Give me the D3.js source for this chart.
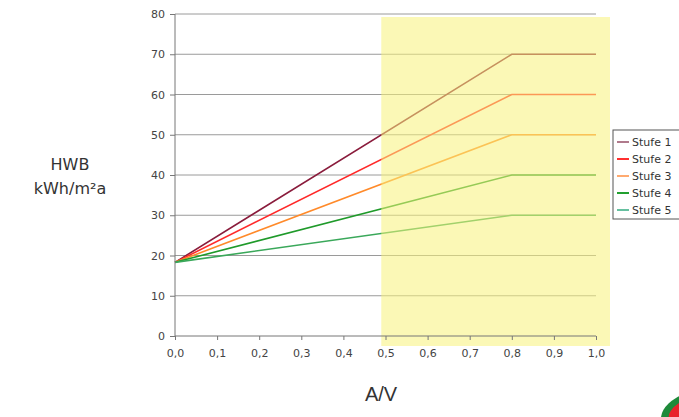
<!DOCTYPE html>
<html><head><meta charset="utf-8">
<script src="https://cdn.jsdelivr.net/npm/d3@7"></script>
<style>body{margin:0;background:#fff;}svg{display:block;}</style>
</head><body>
<svg id="c" width="679" height="417"></svg>
<script>
const xPoints = [0.0, 0.8, 1.0];
const seriesNames = ["Stufe 1", "Stufe 2", "Stufe 3", "Stufe 4", "Stufe 5"];
const stufe1 = [18.3, 70, 70];
const stufe2 = [18.3, 60, 60];
const stufe3 = [18.3, 50, 50];
const stufe4 = [18.3, 40, 40];
const stufe5 = [18.3, 30, 30];
const seriesValues = [stufe1, stufe2, stufe3, stufe4, stufe5];
const seriesColors = ["#8a1c3c", "#ff2a2a", "#ff8a2a", "#1f9a2a", "#3aa85a"];
const legendColors = ["#b07a8c", "#ff3030", "#ffaa70", "#22a030", "#66c0a0"];
const xTicks = [0, 0.1, 0.2, 0.3, 0.4, 0.5, 0.6, 0.7, 0.8, 0.9, 1.0];
const yTicks = [0, 10, 20, 30, 40, 50, 60, 70, 80];
const highlightRange = [0.49, 1.0];

const svg = d3.select("#c");
const x = d3.scaleLinear().domain([0, 1]).range([175, 596]);
const y = d3.scaleLinear().domain([0, 80]).range([336, 14]);
const font = "DejaVu Sans, Verdana, sans-serif";

// gridlines
svg.append("g").selectAll("line").data(yTicks.filter(d => d > 0)).join("line")
  .attr("x1", x(0)).attr("x2", x(1)).attr("y1", d => y(d)).attr("y2", d => y(d))
  .attr("stroke", "#9a9a9a").attr("stroke-width", 1);

// lines
const line = d3.line().x((d, i) => x(xPoints[i])).y(d => y(d));
svg.append("g").selectAll("path").data(seriesValues).join("path")
  .attr("d", d => line(d)).attr("fill", "none")
  .attr("stroke", (d, i) => seriesColors[i]).attr("stroke-width", 1.6);

// yellow highlight overlay
svg.append("rect")
  .attr("x", x(highlightRange[0])).attr("y", 17)
  .attr("width", 610 - x(highlightRange[0])).attr("height", 346 - 17)
  .attr("fill", "#f8f27a").attr("opacity", 0.55);

// axes
const yAxis = d3.axisLeft(y).tickValues(yTicks).tickSize(5).tickPadding(5).tickFormat(d3.format("d"));
const gy = svg.append("g").attr("transform", `translate(${x(0)},0)`).call(yAxis);
const xAxis = d3.axisBottom(x).tickValues(xTicks).tickSize(4).tickPadding(9)
  .tickFormat(d => d3.format(".1f")(d).replace(".", ","));
const gx = svg.append("g").attr("transform", `translate(0,${y(0)})`).call(xAxis);
[gx, gy].forEach(g => {
  g.select(".domain").attr("stroke", "#777").attr("stroke-width", 1);
  g.selectAll(".tick line").attr("stroke", "#777");
  g.selectAll("text").attr("fill", "#444").style("font-family", font).style("font-size", "11px");
});
gx.select(".domain").attr("d", `M${x(0)},0H${x(1)}`);
gy.select(".domain").attr("d", `M0,${y(0)}V${y(80)}`);

// axis titles
svg.append("text").attr("x", 70).attr("y", 170).attr("text-anchor", "middle")
  .style("font-family", font).style("font-size", "16px").attr("fill", "#333").text("HWB");
svg.append("text").attr("x", 70).attr("y", 194).attr("text-anchor", "middle")
  .style("font-family", font).style("font-size", "16px").attr("fill", "#333").text("kWh/m²a");
svg.append("text").attr("x", 381).attr("y", 401).attr("text-anchor", "middle")
  .style("font-family", "Liberation Sans, Arial, sans-serif").style("font-size", "20px").attr("fill", "#333").text("A/V");

// legend
const lg = svg.append("g");
lg.append("rect").attr("x", 613).attr("y", 130).attr("width", 80).attr("height", 89)
  .attr("fill", "#fff").attr("stroke", "#555").attr("stroke-width", 1);
const items = lg.selectAll("g.item").data(seriesNames).join("g").attr("class", "item")
  .attr("transform", (d, i) => `translate(0,${142 + i * 17})`);
items.append("line").attr("x1", 617).attr("x2", 629).attr("y1", 0).attr("y2", 0)
  .attr("stroke", (d, i) => legendColors[i]).attr("stroke-width", 2);
items.append("text").attr("x", 632).attr("y", 4).text(d => d)
  .style("font-family", font).style("font-size", "11px").attr("fill", "#333");

// logo fragment
svg.append("ellipse").attr("cx", 683).attr("cy", 410).attr("rx", 24).attr("ry", 14)
  .attr("transform", "rotate(-30 683 410)").attr("fill", "#1e8a3a");
svg.append("ellipse").attr("cx", 685).attr("cy", 410).attr("rx", 18).attr("ry", 9)
  .attr("transform", "rotate(-30 685 410)").attr("fill", "#e8222a");
</script>
</body></html>
